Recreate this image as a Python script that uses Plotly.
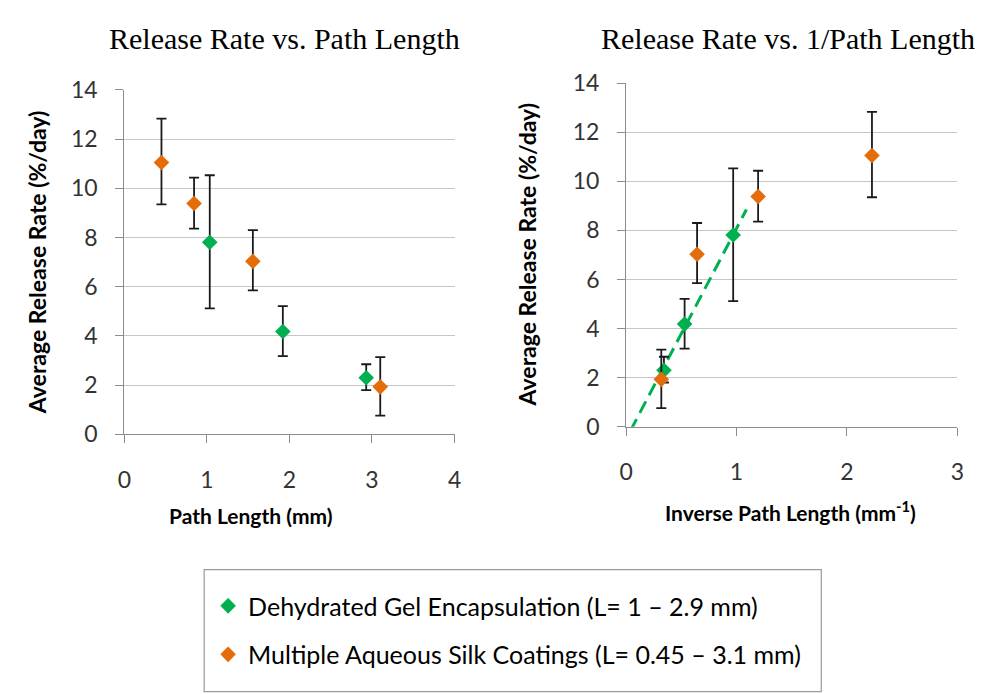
import plotly.graph_objects as go

# ---- data ----
gel_path = [1.035, 1.92, 2.93]
gel_rate = [7.81, 4.18, 2.30]
gel_err_up = [2.72, 1.03, 0.55]
gel_err_down = [2.69, 1.00, 0.50]
gel_inv = [0.97, 0.53, 0.343]

silk_path = [0.45, 0.845, 1.557, 3.10]
silk_rate = [11.05, 9.38, 7.03, 1.93]
silk_err_up = [1.78, 1.05, 1.27, 1.21]
silk_err_down = [1.70, 1.02, 1.18, 1.17]
silk_inv = [2.227, 1.196, 0.643, 0.319]

trend_x = [0.04, 1.09]
trend_y = [-0.16, 8.85]

title_left = "Release Rate vs. Path Length"
title_right = "Release Rate vs. 1/Path Length"
ytitle = "Average Release Rate (%/day)"
xtitle_left = "Path Length (mm)"
xtitle_right = "Inverse Path Length (mm<sup>-1</sup>)"
gel_name = "Dehydrated Gel Encapsulation (L= 1 \u2013 2.9 mm)"
silk_name = "Multiple Aqueous Silk Coatings (L= 0.45 \u2013 3.1 mm)"

GREEN = "#00B050"
ORANGE = "#E46C0A"
W, H = 986, 694
SANS = "Lato, 'Liberation Sans', sans-serif"
SERIF = "'Liberation Serif', 'Times New Roman', serif"

def px_x(p):
    return p / W

def px_y(p):
    return 1 - p / H

fig = go.Figure()

def err(up, down):
    return dict(type="data", symmetric=False, array=up, arrayminus=down,
                color="#1a1a1a", thickness=1.8, width=5)

mk = dict(symbol="diamond", size=12, line=dict(width=0))

# left subplot
fig.add_trace(go.Scatter(x=gel_path, y=gel_rate, mode="markers", name=gel_name,
                         marker=dict(color=GREEN, **mk), error_y=err(gel_err_up, gel_err_down),
                         xaxis="x", yaxis="y", legendgroup="g"))
fig.add_trace(go.Scatter(x=silk_path, y=silk_rate, mode="markers", name=silk_name,
                         marker=dict(color=ORANGE, **mk), error_y=err(silk_err_up, silk_err_down),
                         xaxis="x", yaxis="y", legendgroup="s"))
# right subplot
fig.add_trace(go.Scatter(x=trend_x, y=trend_y, mode="lines", showlegend=False,
                         line=dict(color=GREEN, width=3, dash="13px,7px"),
                         xaxis="x2", yaxis="y2", hoverinfo="skip"))
fig.add_trace(go.Scatter(x=gel_inv, y=gel_rate, mode="markers", name=gel_name, showlegend=False,
                         marker=dict(color=GREEN, **mk), error_y=err(gel_err_up, gel_err_down),
                         xaxis="x2", yaxis="y2", legendgroup="g"))
fig.add_trace(go.Scatter(x=silk_inv, y=silk_rate, mode="markers", name=silk_name, showlegend=False,
                         marker=dict(color=ORANGE, **mk), error_y=err(silk_err_up, silk_err_down),
                         xaxis="x2", yaxis="y2", legendgroup="s"))

axis_common = dict(showline=True, linecolor="#8c8c8c", linewidth=1, ticks="outside",
                   ticklen=8, tickcolor="#8c8c8c", zeroline=False,
                   tickfont=dict(family=SANS, size=23, color="#333333"))

fig.update_layout(
    width=W, height=H,
    margin=dict(l=0, r=0, t=0, b=0),
    paper_bgcolor="white", plot_bgcolor="white",
    xaxis=dict(domain=[px_x(119), px_x(454)], range=[0, 4], dtick=1, showgrid=False,
               anchor="y", ticklabelstandoff=17, **axis_common),
    yaxis=dict(domain=[px_y(437), px_y(78)], range=[0, 14], dtick=2, showgrid=True,
               gridcolor="#c6c6c6", gridwidth=1, anchor="x", ticklabelstandoff=13, **axis_common),
    xaxis2=dict(domain=[px_x(628), px_x(964)], range=[0, 3], dtick=1, showgrid=False,
                anchor="y2", ticklabelstandoff=17, **axis_common),
    yaxis2=dict(domain=[px_y(429), px_y(71)], range=[0, 14], dtick=2, showgrid=True,
                gridcolor="#c6c6c6", gridwidth=1, anchor="x2", ticklabelstandoff=13, **axis_common),
    showlegend=True,
    legend=dict(x=px_x(204), y=px_y(592), xanchor="left", yanchor="top",
                font=dict(family=SANS, size=25, color="#000000"),
                bgcolor="rgba(0,0,0,0)", borderwidth=0, tracegroupgap=13,
                itemsizing="trace"),
    shapes=[dict(type="rect", xref="paper", yref="paper",
                 x0=px_x(200), x1=px_x(826), y0=px_y(705), y1=px_y(578),
                 line=dict(color="#9a9a9a", width=1.2), fillcolor="rgba(0,0,0,0)")],
    annotations=[
        dict(text=title_left, x=px_x(281), y=px_y(24), xref="paper", yref="paper",
             showarrow=False, font=dict(family=SERIF, size=30, color="#000"),
             xanchor="center", yanchor="middle"),
        dict(text=title_right, x=px_x(792), y=px_y(24), xref="paper", yref="paper",
             showarrow=False, font=dict(family=SERIF, size=30, color="#000"),
             xanchor="center", yanchor="middle"),
        dict(text="<b>" + ytitle + "</b>", x=px_x(30), y=px_y(258), xref="paper", yref="paper",
             showarrow=False, textangle=-90, font=dict(family=SANS, size=23, color="#000"),
             xanchor="center", yanchor="middle"),
        dict(text="<b>" + ytitle + "</b>", x=px_x(527), y=px_y(250), xref="paper", yref="paper",
             showarrow=False, textangle=-90, font=dict(family=SANS, size=23, color="#000"),
             xanchor="center", yanchor="middle"),
        dict(text="<b>" + xtitle_left + "</b>", x=px_x(247), y=px_y(522), xref="paper", yref="paper",
             showarrow=False, font=dict(family=SANS, size=21, color="#000"),
             xanchor="center", yanchor="middle"),
        dict(text="<b>" + xtitle_right + "</b>", x=px_x(795), y=px_y(517), xref="paper", yref="paper",
             showarrow=False, font=dict(family=SANS, size=21, color="#000"),
             xanchor="center", yanchor="middle"),
    ],
)

fig.write_html("out.html")
